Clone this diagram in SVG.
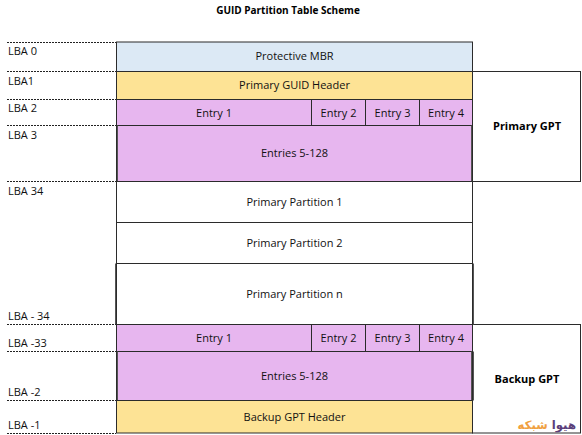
<svg xmlns="http://www.w3.org/2000/svg" width="582" height="435" viewBox="0 0 582 435">
<style>
text{font-family:"Open Sans","Noto Sans","Liberation Sans",sans-serif;font-size:11px;fill:#111}
.c{text-anchor:middle}
.b{font-weight:700;fill:#000}
.box{stroke:#2b2b2b;stroke-width:1}
.mbr{fill:#dce9f5}.hdr{fill:#fde395}.ent{fill:#e7b6ef}.wht{fill:#fff}
.dbl{fill:none;stroke:#555;stroke-width:1}
.dash{stroke:#222;stroke-width:1;stroke-dasharray:2 1;fill:none}
</style>
<rect width="582" height="435" fill="#fff"/>
<text id="title" class="c b" x="288" y="14" style="font-size:10px">GUID Partition Table Scheme</text>
<g id="primary-gpt"><rect class="box wht" x="472.5" y="71.5" width="108" height="110"/><text class="c b" x="527" y="130">Primary GPT</text></g>
<g id="backup-gpt"><rect class="box wht" x="472.5" y="324.5" width="108" height="108.500"/><text class="c b" x="527" y="383">Backup GPT</text></g>
<g id="protective-mbr"><rect class="box mbr" x="116.500" y="42" width="356" height="29.500" stroke="#555"/><text class="c" x="294.500" y="60">Protective MBR</text></g>
<g id="primary-header"><rect class="box hdr" x="116.500" y="71.500" width="356" height="28"/><text class="c" x="294.500" y="89">Primary GUID Header</text></g>
<g id="p-entry1"><rect class="box ent" x="116.500" y="99.500" width="195" height="26"/><text class="c" x="214" y="117">Entry 1</text></g>
<g id="p-entry2"><rect class="box ent" x="311.500" y="99.500" width="54" height="26"/><text class="c" x="338.500" y="117">Entry 2</text></g>
<g id="p-entry3"><rect class="box ent" x="365.500" y="99.500" width="54" height="26"/><text class="c" x="392.500" y="117">Entry 3</text></g>
<g id="p-entry4"><rect class="box ent" x="419.500" y="99.500" width="53" height="26"/><text class="c" x="446" y="117">Entry 4</text></g>
<g id="p-entries"><rect class="box ent" x="116.500" y="125.500" width="356" height="56"/><path class="dbl" d="M117.500 125.500V181.500M471.500 125.500V181.500"/><text class="c" x="294.500" y="157">Entries 5-128</text></g>
<g id="partition1"><rect class="box wht" x="116.500" y="181.500" width="356" height="41"/><text class="c" x="294.500" y="206">Primary Partition 1</text></g>
<g id="partition2"><rect class="box wht" x="116.500" y="222.500" width="356" height="41" stroke="#777"/><text class="c" x="294.500" y="247">Primary Partition 2</text></g>
<g id="partitionn"><rect class="box wht" x="116.500" y="263.500" width="356" height="61"/><path class="dbl" d="M115.500 263.500V324.500M473.500 263.500V324.500"/><text class="c" x="294.500" y="298">Primary Partition n</text></g>
<g id="b-entry1"><rect class="box ent" x="116.500" y="324.500" width="195" height="27"/><text class="c" x="214" y="342">Entry 1</text></g>
<g id="b-entry2"><rect class="box ent" x="311.500" y="324.500" width="54" height="27"/><text class="c" x="338.500" y="342">Entry 2</text></g>
<g id="b-entry3"><rect class="box ent" x="365.500" y="324.500" width="54" height="27"/><text class="c" x="392.500" y="342">Entry 3</text></g>
<g id="b-entry4"><rect class="box ent" x="419.500" y="324.500" width="53" height="27"/><text class="c" x="446" y="342">Entry 4</text></g>
<g id="b-entries"><rect class="box ent" x="116.500" y="351.500" width="356" height="49"/><path class="dbl" d="M117.500 351.500V400.500M471.500 351.500V400.500M473.500 351.500V400.500"/><text class="c" x="294.500" y="380">Entries 5-128</text></g>
<g id="backup-header"><rect class="box hdr" x="116.500" y="400.500" width="356" height="32.500"/><text class="c" x="294.500" y="421">Backup GPT Header</text></g>
<g id="connectors">
<path class="dash" d="M7 42.500H116M7 71.500H116M7 99.500H116M7 125.500H116M7 181.500H116M7 324.500H116M7 351.500H116M7 400.500H116M7 433.500H116"/>
</g>
<g id="lba-labels">
<text x="8" y="55">LBA 0</text>
<text x="8" y="85">LBA1</text>
<text x="8" y="112">LBA 2</text>
<text x="8" y="139">LBA 3</text>
<text x="8" y="195">LBA 34</text>
<text x="8" y="320">LBA - 34</text>
<text x="8" y="347">LBA -33</text>
<text x="8" y="396">LBA -2</text>
<text x="8" y="429">LBA -1</text>
</g>
<g id="watermark">
<text x="576" y="429" style="font-family:'DejaVu Sans',sans-serif;font-size:11.700px;font-weight:700;text-anchor:start" direction="rtl"><tspan fill="#5b3f7a">هیوا</tspan><tspan fill="#f0a040"> شبکه</tspan></text>
</g>
</svg>
